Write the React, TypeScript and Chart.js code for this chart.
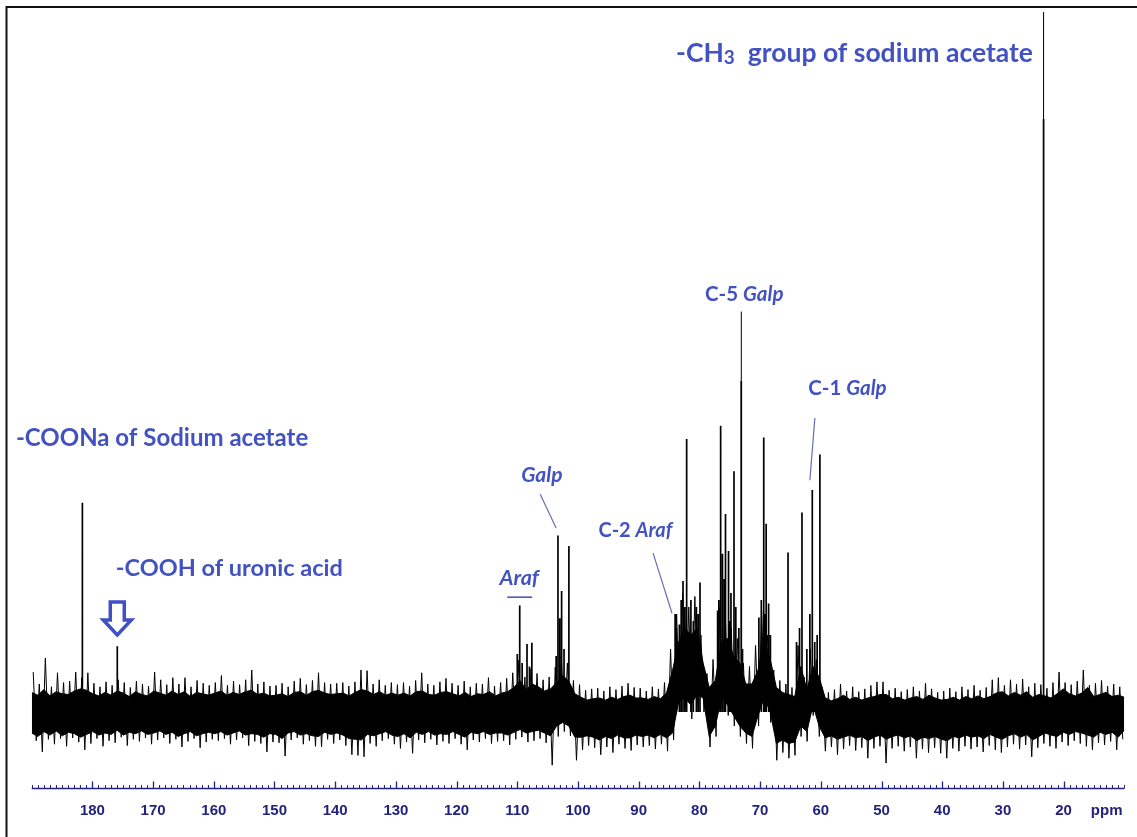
import React, { useEffect, useRef } from "react";
import { Chart, registerables } from "chart.js";

Chart.register(...registerables);

// Spectrum window: chemical shift runs from 190 ppm (left) to 10 ppm (right)
const PPM_LEFT = 190;
const PPM_RIGHT = 10;
const INTENSITY_MIN = -10.86;
const INTENSITY_MAX = 100;

const majorTickPpm = [180, 170, 160, 150, 140, 130, 120, 110, 100, 90, 80, 70, 60, 50, 40, 30, 20];
const axisUnitLabel = "ppm";

// Solid core of the trace, sampled on 180 steps from 190 ppm to 10 ppm
const bandTop = [
  2.8, 2.4, 3.2, 2.3, 2.9, 2.6, 2.5, 3.0, 3.3, 3.1,
  2.6, 2.3, 2.8, 2.4, 3.0, 2.7, 2.2, 2.9, 2.5, 2.3,
  3.0, 2.7, 2.4, 3.0, 2.5, 2.9, 2.2, 2.8, 2.6, 2.4,
  2.7, 3.0, 2.4, 2.8, 2.5, 2.9, 3.1, 2.5, 2.7, 2.3,
  2.4, 2.6, 2.2, 2.8, 2.9, 2.4, 2.9, 3.1, 2.7, 2.5,
  2.6, 2.7, 2.3, 2.8, 3.2, 3.0, 2.5, 2.9, 2.4, 2.7,
  2.4, 2.7, 2.3, 2.9, 3.0, 2.5, 2.4, 2.8, 2.9, 2.6,
  2.3, 2.8, 2.2, 2.6, 2.5, 2.9, 2.3, 2.7, 2.9, 3.5,
  4.5, 3.2, 4.0, 3.6, 3.0, 3.3, 4.2, 5.2, 4.4, 2.6,
  2.1, 1.7, 1.9, 2.0, 1.7, 2.1, 1.8, 2.2, 2.4, 2.0,
  2.0, 1.8, 2.2, 1.9, 2.7, 6.0, 10.0, 12.0, 11.0, 12.0,
  7.0, 3.5, 4.5, 10.0, 10.5, 8.0, 7.0, 4.0, 4.0, 6.0,
  10.5, 7.5, 3.5, 2.8, 2.5, 2.2, 6.5, 3.2, 6.5, 5.0,
  2.0, 1.6, 1.9, 2.4, 1.8, 2.1, 1.7, 2.0, 2.2, 2.5,
  2.5, 1.9, 2.1, 1.7, 2.0, 2.2, 1.8, 2.4, 2.0, 1.7,
  1.8, 2.1, 1.7, 2.2, 1.9, 2.3, 1.9, 2.2, 2.7, 2.9,
  2.3, 2.8, 2.4, 2.9, 2.1, 2.5, 2.3, 2.0, 2.6, 3.3,
  2.6, 2.3, 2.7, 3.5, 2.2, 2.5, 2.8, 2.2, 2.4, 2.1,
];
const bandBottom = [
  -3.0, -3.5, -2.8, -3.3, -2.7, -3.4, -2.9, -3.1, -3.6, -3.2,
  -2.8, -3.3, -3.0, -3.2, -2.6, -3.3, -2.9, -3.1, -2.7, -3.2,
  -3.0, -2.7, -3.2, -2.9, -3.5, -3.1, -2.8, -3.4, -3.1, -2.9,
  -3.1, -2.8, -3.3, -3.0, -2.7, -3.3, -3.1, -3.2, -3.6, -3.1,
  -3.2, -3.8, -3.0, -2.8, -3.3, -3.1, -3.4, -3.5, -2.9, -3.2,
  -3.0, -3.3, -3.8, -3.9, -4.0, -3.2, -3.4, -3.1, -2.8, -3.3,
  -3.5, -3.1, -3.7, -2.9, -3.2, -2.8, -3.3, -3.1, -3.2, -2.8,
  -3.2, -3.6, -2.9, -3.1, -2.8, -3.2, -3.0, -3.0, -3.3, -2.9,
  -2.5, -3.0, -2.8, -2.6, -3.0, -3.4, -2.0, -1.5, -2.0, -3.6,
  -3.6, -3.4, -3.6, -4.0, -3.5, -3.8, -3.3, -3.7, -3.7, -3.3,
  -3.5, -3.3, -3.7, -3.2, -3.7, -3.0, 1.5, 2.0, 1.0, 2.5,
  2.0, -3.5, -2.0, 2.0, 1.0, -0.5, -2.0, -3.0, -3.5, -0.5,
  2.0, 0.0, -4.5, -4.0, -4.5, -4.3, -2.0, -2.8, 1.0, -2.0,
  -3.7, -3.4, -3.9, -3.6, -3.3, -3.7, -3.5, -4.1, -3.6, -3.3,
  -3.9, -3.5, -3.3, -3.7, -3.4, -4.1, -3.6, -3.8, -3.5, -3.9,
  -4.1, -3.5, -3.7, -3.3, -3.6, -3.4, -3.8, -3.2, -3.6, -3.9,
  -3.4, -3.1, -3.6, -3.2, -4.0, -3.5, -3.0, -3.3, -3.5, -2.9,
  -3.2, -2.8, -3.0, -3.3, -3.6, -2.9, -3.2, -2.9, -3.6, -2.6,
];

// Noise excursions, one pair per 1-ppm bin from 190 ppm down: upward, then downward
const noiseHigh = [
  5.7, 4.0, 7.7, 3.6, 5.6, 4.2, 4.4, 5.7, 4.9, 5.6,
  4.1, 3.6, 4.3, 3.8, 4.6, 4.2, 3.5, 4.4, 4.0, 3.7,
  5.7, 4.6, 3.9, 4.9, 4.0, 4.9, 3.6, 4.5, 4.1, 3.8,
  4.2, 5.2, 3.8, 4.4, 3.9, 4.6, 6.0, 4.0, 4.3, 3.7,
  3.8, 4.1, 3.6, 4.4, 4.8, 3.9, 4.5, 5.6, 4.2, 4.0,
  4.1, 4.2, 3.7, 4.3, 6.0, 5.9, 4.0, 4.6, 3.8, 4.2,
  3.9, 4.2, 3.7, 4.5, 5.6, 4.0, 3.8, 4.3, 4.8, 4.1,
  3.8, 4.4, 3.6, 4.1, 4.0, 4.9, 3.7, 4.2, 4.8, 5.6,
  7.4, 5.0, 6.2, 5.5, 4.6, 5.0, 6.4, 8.0, 7.0, 4.5,
  3.9, 3.1, 3.3, 3.4, 3.0, 3.6, 3.2, 3.7, 4.1, 3.5,
  3.4, 3.0, 3.6, 3.3, 4.2, 9.0, 14.0, 17.0, 15.0, 16.5,
  11.0, 5.5, 7.5, 15.0, 14.5, 12.0, 10.5, 7.0, 6.5, 9.5,
  14.5, 11.0, 6.0, 4.5, 4.0, 3.5, 9.5, 5.0, 9.0, 7.5,
  3.5, 2.8, 3.2, 4.0, 3.0, 3.6, 2.9, 3.3, 3.8, 4.3,
  4.3, 3.1, 3.4, 2.9, 3.2, 3.6, 3.0, 4.1, 3.3, 2.8,
  3.0, 3.4, 2.9, 3.6, 3.2, 3.8, 3.1, 3.5, 4.6, 4.9,
  3.8, 4.6, 4.0, 4.7, 3.6, 4.1, 3.9, 3.4, 4.2, 5.7,
  4.2, 3.9, 4.4, 6.0, 3.8, 4.1, 4.5, 3.7, 4.0, 3.6,
];
const noiseLow = [
  -4.1, -5.7, -3.9, -4.6, -3.8, -4.9, -3.7, -4.3, -5.4, -4.5,
  -3.8, -4.9, -4.1, -4.4, -3.6, -4.8, -3.9, -4.2, -3.7, -4.6,
  -4.0, -3.7, -4.5, -3.9, -5.0, -4.2, -3.8, -5.1, -4.3, -3.9,
  -4.1, -3.8, -4.6, -4.0, -3.7, -4.8, -4.2, -4.5, -5.7, -4.3,
  -4.4, -6.3, -4.0, -3.7, -4.6, -4.1, -4.9, -5.0, -3.9, -4.5,
  -4.0, -4.8, -6.1, -6.2, -6.4, -4.5, -4.9, -4.1, -3.8, -4.6,
  -5.2, -4.3, -5.9, -4.0, -4.4, -3.9, -4.7, -4.2, -4.5, -3.8,
  -4.6, -5.4, -4.0, -4.3, -3.8, -4.5, -4.2, -4.1, -4.7, -3.9,
  -3.6, -4.3, -4.1, -3.8, -4.4, -7.6, -3.5, -2.8, -3.4, -6.9,
  -5.4, -4.8, -5.1, -6.1, -5.0, -5.8, -4.6, -5.2, -5.5, -4.7,
  -5.0, -4.8, -5.3, -4.6, -5.6, -4.0, 0.0, 0.5, -1.0, 1.0,
  0.0, -5.0, -3.5, 0.5, -0.5, -2.0, -3.5, -4.5, -5.2, -2.0,
  0.5, -1.5, -6.9, -5.8, -6.6, -6.2, -3.5, -4.2, -0.5, -3.5,
  -5.6, -5.0, -6.1, -5.3, -4.8, -5.5, -5.1, -6.6, -5.2, -4.9,
  -7.3, -5.2, -4.9, -5.6, -5.0, -6.6, -5.3, -5.8, -5.1, -5.9,
  -6.6, -5.2, -5.6, -4.9, -5.3, -5.0, -5.7, -4.8, -5.4, -5.8,
  -5.0, -4.6, -5.3, -4.7, -6.4, -5.1, -4.5, -4.9, -5.2, -4.3,
  -4.8, -4.1, -4.5, -4.9, -5.4, -4.4, -4.7, -4.2, -5.4, -3.9,
];

// Resolved resonances (ppm, height)
const peakPpm = [
  181.65, 175.9,
  110.0, 109.6, 109.2, 108.4, 108.0, 107.6,
  103.6, 103.3, 103.0, 102.7, 102.3, 101.5,
  84.0, 83.8, 83.3, 83.0, 82.7, 82.4, 82.1, 81.4, 81.0, 80.5, 80.2, 79.9,
  77.0, 76.8, 76.5, 76.2, 75.9, 75.7, 75.2, 75.0, 74.8, 74.3, 74.0, 73.5, 73.1, 72.9,
  70.2, 69.8, 69.4, 69.2, 69.0, 68.6, 68.3,
  65.4, 64.0, 63.5, 63.1, 62.3, 61.8, 61.4, 61.0, 60.6, 60.15,
  23.3,
];
const peakHeight = [
  29.9, 9.4,
  8.3, 15.2, 7.0, 9.7, 6.5, 9.9,
  8.0, 25.2, 13.4, 17.3, 9.0, 23.7,
  14.0, 12.0, 12.5, 16.0, 18.7, 15.0, 39.0, 16.0, 13.0, 15.0, 14.0, 18.5,
  14.5, 16.0, 40.9, 22.6, 19.0, 28.3, 23.0, 13.0, 17.0, 34.4, 15.0, 12.0, 47.3, 9.0,
  13.5, 16.0, 39.2, 14.0, 26.9, 15.5, 11.0,
  22.8, 10.0, 12.0, 28.5, 9.0, 14.0, 31.7, 10.0, 11.0, 36.8,
  84.7,
];

// Thin upper parts of the two strongest lines
const tipPpm = [73.1, 23.3];
const tipHeight = [57.2, 100];

const LABEL_BLUE = "#4252c2";
const LEADER_BLUE = "#6470b4";
const AXIS_NAVY = "#23237f";
const LABEL_FONT = "Lato, 'Open Sans', sans-serif";

type Run = { text: string; italic?: boolean; sub?: boolean };
type Note = { ppm: number; at: number; size: number; runs: Run[] };

// Text notes: left edge (ppm) and baseline (intensity)
const notes: Note[] = [
  { ppm: 83.85, at: 92.86, size: 26.5, runs: [{ text: "-CH" }, { text: "3", sub: true }, { text: "  group of sodium acetate" }] },
  { ppm: 192.6, at: 38.0, size: 24, runs: [{ text: "-COONa of Sodium acetate" }] },
  { ppm: 176.15, at: 19.43, size: 23.5, runs: [{ text: "-COOH of uronic acid" }] },
  { ppm: 109.35, at: 32.9, size: 21, runs: [{ text: "Galp", italic: true }] },
  { ppm: 112.93, at: 18.14, size: 21.5, runs: [{ text: "Araf", italic: true }] },
  { ppm: 96.64, at: 25.04, size: 20, runs: [{ text: "C-2 " }, { text: "Araf", italic: true }] },
  { ppm: 79.08, at: 58.76, size: 20.5, runs: [{ text: "C-5 " }, { text: "Galp", italic: true }] },
  { ppm: 62.08, at: 45.29, size: 20.5, runs: [{ text: "C-1 " }, { text: "Galp", italic: true }] },
];

// Leader lines from labels to their signals: [ppm, intensity] pairs
const leaders: [number, number][][] = [
  [[106.23, 31.1], [103.6, 26.3]],
  [[87.63, 22.7], [84.51, 14.1]],
  [[60.98, 42.0], [61.8, 33.1]],
];
const arafBar: [number, number][] = [[111.66, 16.4], [107.55, 16.4]];
const arrowTip: [number, number] = [175.9, 11.0];

function sticks(ppm: number[], heights: number[]) {
  const pts: { x: number; y: number | null }[] = [];
  ppm.forEach((p, i) => {
    pts.push({ x: p, y: 0 });
    pts.push({ x: p, y: heights[i] });
    pts.push({ x: p, y: null });
  });
  return pts;
}

function bandEdge(values: number[]) {
  const step = (PPM_LEFT - PPM_RIGHT) / (values.length - 1);
  return values.map((v, i) => ({ x: PPM_LEFT - i * step, y: v }));
}

function zigzag() {
  const pts: { x: number; y: number }[] = [];
  noiseHigh.forEach((hi, i) => {
    const binStart = PPM_LEFT - i;
    pts.push({ x: binStart - 0.25, y: hi });
    pts.push({ x: binStart - 0.75, y: noiseLow[i] });
  });
  return pts;
}

const overlayPlugin = {
  id: "spectrumOverlay",
  afterDraw(chart: any) {
    const ctx: CanvasRenderingContext2D = chart.ctx;
    const xs = chart.scales.x;
    const ys = chart.scales.y;
    const px = (v: number) => xs.getPixelForValue(v);
    const py = (v: number) => ys.getPixelForValue(v);
    const area = chart.chartArea;
    ctx.save();

    // frame
    ctx.strokeStyle = "#111";
    ctx.lineWidth = 2;
    ctx.beginPath();
    ctx.moveTo(6.5, 837);
    ctx.lineTo(6.5, 7);
    ctx.lineTo(1137, 7);
    ctx.stroke();

    // ppm axis with ticks pointing up
    const axisY = area.bottom + 0.5;
    ctx.strokeStyle = AXIS_NAVY;
    ctx.lineWidth = 1.5;
    ctx.beginPath();
    ctx.moveTo(px(PPM_LEFT), axisY);
    ctx.lineTo(px(PPM_RIGHT), axisY);
    ctx.stroke();
    ctx.lineWidth = 1;
    ctx.beginPath();
    for (let v = PPM_RIGHT; v <= PPM_LEFT; v += 1) {
      const x = Math.round(px(v)) + 0.5;
      ctx.moveTo(x, axisY);
      ctx.lineTo(x, axisY - 3.5);
    }
    ctx.stroke();
    ctx.lineWidth = 1.3;
    ctx.beginPath();
    majorTickPpm.forEach((v) => {
      const x = Math.round(px(v)) + 0.5;
      ctx.moveTo(x, axisY);
      ctx.lineTo(x, axisY - 7);
    });
    ctx.stroke();
    ctx.fillStyle = AXIS_NAVY;
    ctx.font = "bold 15px 'Liberation Sans', Arial, sans-serif";
    ctx.textAlign = "center";
    ctx.textBaseline = "middle";
    majorTickPpm.forEach((v) => ctx.fillText(String(v), px(v), axisY + 22));
    ctx.fillText(axisUnitLabel, px(12.9), axisY + 22);

    // leader lines
    ctx.strokeStyle = LEADER_BLUE;
    ctx.lineWidth = 1.2;
    leaders.forEach(([a, b]) => {
      ctx.beginPath();
      ctx.moveTo(px(a[0]), py(a[1]));
      ctx.lineTo(px(b[0]), py(b[1]));
      ctx.stroke();
    });
    ctx.strokeStyle = LABEL_BLUE;
    ctx.lineWidth = 1.5;
    ctx.beginPath();
    ctx.moveTo(px(arafBar[0][0]), py(arafBar[0][1]));
    ctx.lineTo(px(arafBar[1][0]), py(arafBar[1][1]));
    ctx.stroke();

    // hollow arrow over the uronic acid carboxyl signal
    const tx = px(arrowTip[0]);
    const ty = py(arrowTip[1]);
    ctx.strokeStyle = "#3f4fc4";
    ctx.lineWidth = 3.5;
    ctx.lineJoin = "miter";
    ctx.beginPath();
    ctx.moveTo(tx, ty);
    ctx.lineTo(tx - 14, ty - 15);
    ctx.lineTo(tx - 7, ty - 15);
    ctx.lineTo(tx - 7, ty - 33);
    ctx.lineTo(tx + 7, ty - 33);
    ctx.lineTo(tx + 7, ty - 15);
    ctx.lineTo(tx + 14, ty - 15);
    ctx.closePath();
    ctx.stroke();

    // text notes
    ctx.fillStyle = LABEL_BLUE;
    ctx.textAlign = "left";
    ctx.textBaseline = "alphabetic";
    notes.forEach((n) => {
      let x = px(n.ppm);
      const y = py(n.at);
      n.runs.forEach((r) => {
        const size = r.sub ? Math.round(n.size * 0.7) : n.size;
        ctx.font = `${r.italic ? "italic " : ""}bold ${size}px ${LABEL_FONT}`;
        ctx.fillText(r.text, x, y + (r.sub ? 2 : 0));
        x += ctx.measureText(r.text).width;
      });
    });
    ctx.restore();
  },
};

export default function App() {
  const canvasRef = useRef<HTMLCanvasElement | null>(null);

  useEffect(() => {
    document.body.style.margin = "0";
    const canvas = canvasRef.current;
    if (!canvas) return;
    const chart = new Chart(canvas, {
      type: "line",
      data: {
        datasets: [
          {
            label: "core top",
            data: bandEdge(bandTop),
            borderColor: "#000",
            backgroundColor: "#000",
            borderWidth: 1,
            fill: "+1",
            pointRadius: 0,
          },
          {
            label: "core bottom",
            data: bandEdge(bandBottom),
            borderColor: "#000",
            borderWidth: 1,
            fill: false,
            pointRadius: 0,
          },
          {
            label: "noise",
            data: zigzag(),
            borderColor: "#000",
            borderWidth: 1,
            fill: false,
            pointRadius: 0,
          },
          {
            label: "peaks",
            data: sticks(peakPpm, peakHeight),
            borderColor: "#000",
            borderWidth: 1.7,
            fill: false,
            pointRadius: 0,
            spanGaps: false,
          },
          {
            label: "tips",
            data: sticks(tipPpm, tipHeight),
            borderColor: "#000",
            borderWidth: 1,
            fill: false,
            pointRadius: 0,
            spanGaps: false,
          },
        ] as any,
      },
      options: {
        animation: false,
        responsive: false,
        maintainAspectRatio: false,
        events: [],
        layout: { padding: { left: 31.7, right: 12.7, top: 12, bottom: 49 } },
        plugins: {
          legend: { display: false },
          tooltip: { enabled: false },
          title: { display: false },
        },
        elements: { point: { radius: 0 }, line: { tension: 0 } },
        scales: {
          x: { type: "linear", reverse: true, min: PPM_RIGHT, max: PPM_LEFT, display: false },
          y: { type: "linear", min: INTENSITY_MIN, max: INTENSITY_MAX, display: false },
        },
      },
      plugins: [overlayPlugin],
    });
    return () => chart.destroy();
  }, []);

  return (
    <div style={{ position: "fixed", left: 0, top: 0, width: 1137, height: 837, background: "#fff" }}>
      <canvas ref={canvasRef} width={1137} height={837} style={{ display: "block" }} />
    </div>
  );
}
